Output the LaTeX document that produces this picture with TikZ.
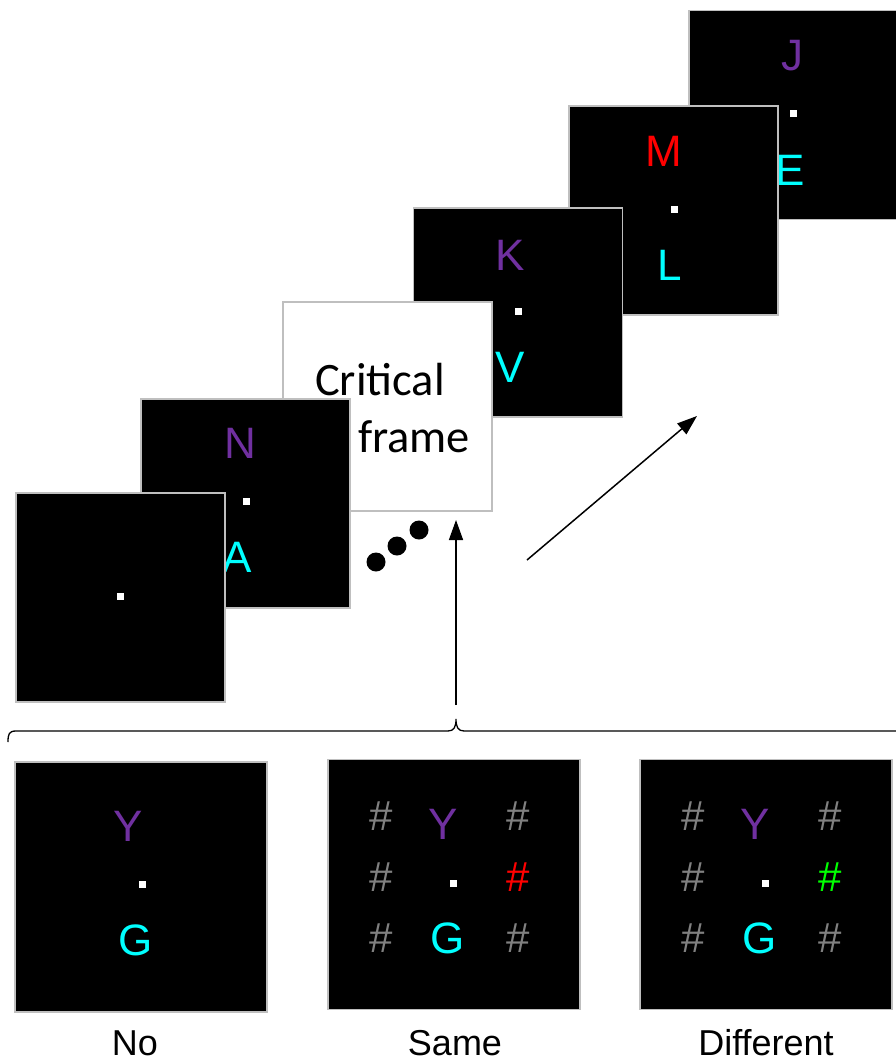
\documentclass[tikz,border=0pt]{standalone}
\usepackage{fontspec}
\setmainfont{Liberation Sans}
\newfontfamily\calib{Carlito}
\usetikzlibrary{arrows.meta}
\definecolor{lpurple}{RGB}{112,48,160}
\definecolor{lcyan}{RGB}{0,255,255}
\definecolor{lred}{RGB}{255,0,0}
\definecolor{lgreen}{RGB}{0,255,0}
\definecolor{lgrey}{RGB}{128,128,128}
\definecolor{fborder}{RGB}{191,191,191}
\tikzset{
  frame/.style={draw=fborder, line width=1.5pt, fill=black, minimum width=209pt, minimum height=209pt, inner sep=0pt},
  bframe/.style={draw=fborder, line width=1.5pt, fill=black, minimum width=252pt, minimum height=250pt, inner sep=0pt},
  critframe/.style={draw=fborder, line width=1.5pt, fill=white, minimum width=209pt, minimum height=209pt, inner sep=0pt},
  fix/.style={fill=white, minimum size=7pt, inner sep=0pt},
  let/.style={inner sep=0pt, font=\fontsize{44}{44}\selectfont},
  hsh/.style={inner sep=0pt, font=\fontsize{42}{42}\selectfont, text=lgrey},
  lab/.style={inner sep=0pt, font=\fontsize{36}{36}\selectfont},
  crit/.style={inner sep=0pt, font=\calib\fontsize{46.5}{46.5}\selectfont},
  ell/.style={fill=black, circle, minimum size=19pt, inner sep=0pt},
  arr/.style={line width=1.5pt, -{Triangle[length=20pt,width=14pt]}},
}
\begin{document}
\begin{tikzpicture}[x=1pt,y=-1pt]
\useasboundingbox (0,0) rectangle (896,1063);
% J frame
\node[frame] (fJ) at (793.5,115) {};
\node[let, text=lpurple] (tJ) at (792,56) {J};
\node[fix] (dJ) at (793,113) {};
\node[let, text=lcyan] (tE) at (790,170) {E};
% M frame
\node[frame] (fM) at (673.5,210.5) {};
\node[let, text=lred] (tM) at (664,151) {M};
\node[fix] (dM) at (674,209) {};
\node[let, text=lcyan] (tL) at (670,265) {L};
% K frame
\node[frame] (fK) at (518,312.5) {};
\node[let, text=lpurple] (tK) at (510,255) {K};
\node[fix] (dK) at (518,311) {};
\node[let, text=lcyan] (tV) at (510,367) {V};
% critical frame
\node[critframe] (fC) at (387.5,406.5) {};
\node[crit] (tC1) at (380,380) {Critical};
\node[crit] (tC2) at (414,437) {frame};
% N frame
\node[frame] (fN) at (245.5,503.5) {};
\node[let, text=lpurple] (tN) at (240,443) {N};
\node[fix] (dN) at (246,501) {};
\node[let, text=lcyan] (tA) at (237,557) {A};
% fixation frame
\node[frame] (fF) at (120.5,597.5) {};
\node[fix] (dF) at (120,596) {};
% ellipsis
\node[ell] (e1) at (376,562) {};
\node[ell] (e2) at (397,546) {};
\node[ell] (e3) at (419,530) {};
% arrows
\coordinate (upS) at (456,705);
\coordinate (upE) at (456,520);
\draw[arr] (upS) -- (upE);
\coordinate (dgS) at (527,560);
\coordinate (dgE) at (697,416);
\draw[arr] (dgS) -- (dgE);
% brace
\draw[line width=1.3pt] (8,742) .. controls (8,734) and (9,731) .. (16,731) -- (448,731) .. controls (454,731) and (456,727) .. (456,719) .. controls (456,727) and (458,731) .. (464,731) -- (896,731);
% bottom: No
\node[bframe] (bN) at (141,887) {};
\node[let, text=lpurple] (bNY) at (128,826) {Y};
\node[fix] (bNd) at (142,884) {};
\node[let, text=lcyan] (bNG) at (136,940) {G};
\node[lab] (lN) at (135,1043) {No};
% bottom: Same
\node[bframe] (bS) at (454,884.5) {};
\node[hsh] (s1) at (381,816) {\#};
\node[hsh] (s2) at (518,816) {\#};
\node[hsh] (s3) at (381,877) {\#};
\node[hsh, text=lred] (s4) at (518,877) {\#};
\node[hsh] (s5) at (381,938) {\#};
\node[hsh] (s6) at (518,938) {\#};
\node[let, text=lpurple] (bSY) at (443,824) {Y};
\node[fix] (bSd) at (453,883) {};
\node[let, text=lcyan] (bSG) at (448,938) {G};
\node[lab] (lS) at (455,1043) {Same};
% bottom: Different
\node[bframe] (bD) at (766,884.5) {};
\node[hsh] (d1) at (693,816) {\#};
\node[hsh] (d2) at (830,816) {\#};
\node[hsh] (d3) at (693,877) {\#};
\node[hsh, text=lgreen] (d4) at (830,877) {\#};
\node[hsh] (d5) at (693,938) {\#};
\node[hsh] (d6) at (830,938) {\#};
\node[let, text=lpurple] (bDY) at (755,824) {Y};
\node[fix] (bDd) at (765,883) {};
\node[let, text=lcyan] (bDG) at (760,938) {G};
\node[lab] (lD) at (766,1043) {Different};
\end{tikzpicture}
\end{document}
